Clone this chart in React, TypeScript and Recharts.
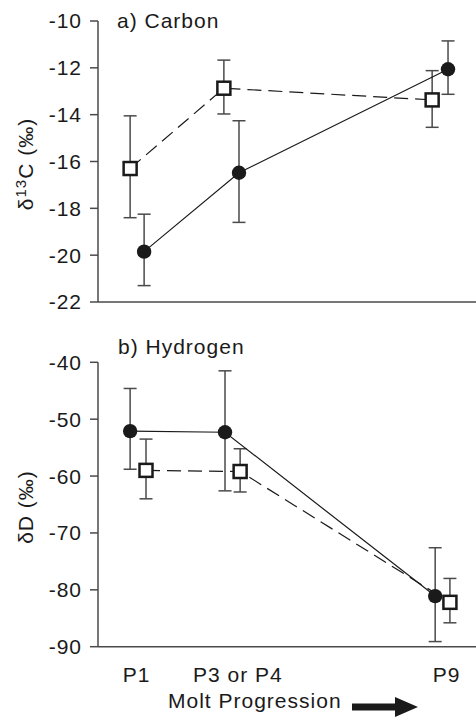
import { LineChart, Line, XAxis, YAxis, ErrorBar } from "recharts";

// categories along the molt sequence
const categories = ["P1", "P3 or P4", "P9"];
const categoryTicks = [1.02, 3.7, 9.22];

// a) Carbon
const carbonCircleX = [1.22, 3.73, 9.26];
const carbonCircle = [-19.85, -16.48, -12.06];
const carbonCircleErr: [number, number][] = [[1.45, 1.6], [2.12, 2.22], [1.07, 1.21]];
const carbonSquareX = [0.85, 3.33, 8.84];
const carbonSquare = [-16.3, -12.87, -13.37];
const carbonSquareErr: [number, number][] = [[2.1, 2.25], [1.1, 1.2], [1.17, 1.25]];
const carbonTicks = [-22, -20, -18, -16, -14, -12, -10];

// b) Hydrogen
const hydroCircleX = [0.85, 3.36, 8.92];
const hydroCircle = [-52.1, -52.3, -81.1];
const hydroCircleErr: [number, number][] = [[6.7, 7.5], [10.3, 10.8], [8.0, 8.5]];
const hydroSquareX = [1.27, 3.76, 9.31];
const hydroSquare = [-59.0, -59.2, -82.2];
const hydroSquareErr: [number, number][] = [[5.0, 5.5], [3.6, 4.0], [3.6, 4.2]];
const hydroTicks = [-90, -80, -70, -60, -50, -40];

const toRows = (xs: number[], ys: number[], errs: [number, number][]) =>
  xs.map((x, i) => ({ x, y: ys[i], err: errs[i] }));

const FONT = "'Liberation Sans', Arial, sans-serif";
const INK = "#1a1a1a";
const AXIS = "#4a4a4a";
const tickStyle = { fontSize: 21, fill: INK, fontFamily: FONT, letterSpacing: 1 };

const Circle = (props: any) => {
  const { cx, cy } = props;
  if (cx == null || cy == null) return null;
  return <circle cx={cx} cy={cy} r={7.2} fill={INK} />;
};

const Square = (props: any) => {
  const { cx, cy } = props;
  if (cx == null || cy == null) return null;
  return (
    <rect x={cx - 6.5} y={cy - 6.5} width={13} height={13} fill="#fff" stroke={INK} strokeWidth={2.5} />
  );
};

export default function App() {
  const cC = toRows(carbonCircleX, carbonCircle, carbonCircleErr);
  const cS = toRows(carbonSquareX, carbonSquare, carbonSquareErr);
  const hC = toRows(hydroCircleX, hydroCircle, hydroCircleErr);
  const hS = toRows(hydroSquareX, hydroSquare, hydroSquareErr);

  return (
    <div style={{ position: "absolute", left: 0, top: 0, width: 476, height: 721, background: "#fff" }}>
      <div style={{ position: "absolute", left: 0, top: 0 }}>
        <LineChart width={476} height={320} margin={{ top: 21, right: 0, bottom: 0, left: 0 }}>
          <XAxis
            type="number"
            dataKey="x"
            domain={[0, 10]}
            tick={false}
            tickLine={false}
            height={18}
            stroke={AXIS}
            strokeWidth={1.5}
          />
          <YAxis
            type="number"
            domain={[-22, -10]}
            ticks={carbonTicks}
            width={98}
            tickSize={8}
            tickMargin={8}
            tick={tickStyle}
            stroke={AXIS}
            strokeWidth={1.5}
          />
          <Line
            data={cS}
            dataKey="y"
            stroke={INK}
            strokeWidth={1.2}
            strokeDasharray="14 7"
            dot={<Square />}
            activeDot={false}
            isAnimationActive={false}
          >
            <ErrorBar dataKey="err" direction="y" width={6.5} stroke={AXIS} strokeWidth={1.5} strokeDasharray="0" />
          </Line>
          <Line
            data={cC}
            dataKey="y"
            stroke={INK}
            strokeWidth={1.2}
            dot={<Circle />}
            activeDot={false}
            isAnimationActive={false}
          >
            <ErrorBar dataKey="err" direction="y" width={6.5} stroke={AXIS} strokeWidth={1.5} />
          </Line>
        </LineChart>
      </div>
      <div style={{ position: "absolute", left: 0, top: 320 }}>
        <LineChart width={476} height={401} margin={{ top: 42.3, right: 0, bottom: 0, left: 0 }}>
          <XAxis
            type="number"
            dataKey="x"
            domain={[0, 10]}
            ticks={categoryTicks}
            tickFormatter={(v: number) => categories[categoryTicks.indexOf(v)] ?? ""}
            tickLine={false}
            tickSize={0}
            tickMargin={20}
            tick={tickStyle}
            height={74.3}
            stroke={AXIS}
            strokeWidth={1.5}
            interval={0}
          />
          <YAxis
            type="number"
            domain={[-90, -40]}
            ticks={hydroTicks}
            width={98}
            tickSize={8}
            tickMargin={8}
            tick={tickStyle}
            stroke={AXIS}
            strokeWidth={1.5}
          />
          <Line
            data={hS}
            dataKey="y"
            stroke={INK}
            strokeWidth={1.2}
            strokeDasharray="14 7"
            dot={<Square />}
            activeDot={false}
            isAnimationActive={false}
          >
            <ErrorBar dataKey="err" direction="y" width={6.5} stroke={AXIS} strokeWidth={1.5} strokeDasharray="0" />
          </Line>
          <Line
            data={hC}
            dataKey="y"
            stroke={INK}
            strokeWidth={1.2}
            dot={<Circle />}
            activeDot={false}
            isAnimationActive={false}
          >
            <ErrorBar dataKey="err" direction="y" width={6.5} stroke={AXIS} strokeWidth={1.5} />
          </Line>
        </LineChart>
      </div>
      <svg
        width={476}
        height={721}
        style={{ position: "absolute", left: 0, top: 0, pointerEvents: "none" }}
        fontFamily={FONT}
        fontSize={21}
        fill={INK}
        letterSpacing={1}
      >
        <text x={117} y={28}>a) Carbon</text>
        <text x={118} y={354}>b) Hydrogen</text>
        <text x={33} y={164} textAnchor="middle" transform="rotate(-90 33 164)">
          δ<tspan fontSize={15} dy={-7}>13</tspan>
          <tspan dy={7}>C (‰)</tspan>
        </text>
        <text x={33} y={507} textAnchor="middle" transform="rotate(-90 33 507)">
          δD (‰)
        </text>
        <text x={168} y={708}>Molt Progression</text>
        <polygon points="352,703.5 395,703.5 395,697 418,707 395,717 395,710.5 352,710.5" fill={INK} />
      </svg>
    </div>
  );
}
